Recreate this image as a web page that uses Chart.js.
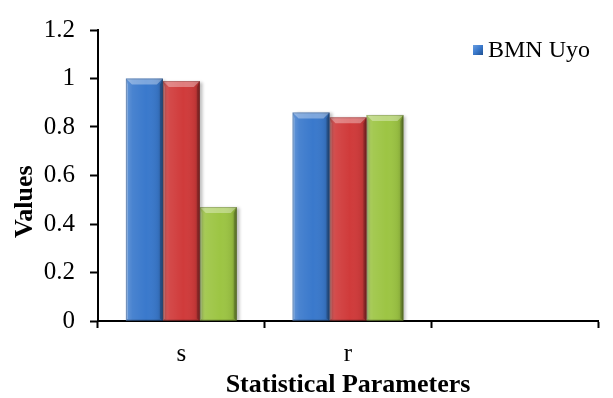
<!DOCTYPE html>
<html>
<head>
<meta charset="utf-8">
<script src="https://cdn.jsdelivr.net/npm/chart.js@4/dist/chart.umd.min.js"></script>
<style>
  html, body { margin: 0; padding: 0; background: #ffffff; }
  #wrap { width: 613px; height: 398px; }
</style>
</head>
<body>
<div id="wrap"><canvas id="c" width="613" height="398"></canvas></div>
<script>
// Statistical parameters compared across three series
const categories = ['s', 'r', ''];
const seriesNames = ['BMN Uyo', 'Series 2', 'Series 3'];
const bmnUyo  = [1.00, 0.86, null];
const series2 = [0.99, 0.84, null];
const series3 = [0.47, 0.85, null];
const yTicks = [0, 0.2, 0.4, 0.6, 0.8, 1, 1.2];
const legendShown = ['BMN Uyo'];
const yTitle = 'Values';
const xTitle = 'Statistical Parameters';

const seriesColors = ['#3a79cc', '#d03b3b', '#9dc544'];
const serif = "'Liberation Serif', 'Times New Roman', serif";

// Adds a bevelled, slightly glossy finish on top of each drawn bar
const bevelBars = {
  id: 'bevelBars',
  beforeDatasetDraw(chart) {
    const ctx = chart.ctx;
    ctx.save();
    ctx.shadowColor = 'rgba(0,0,0,0.25)';
    ctx.shadowBlur = 3;
    ctx.shadowOffsetX = 3;
    ctx.shadowOffsetY = 1;
  },
  afterDatasetDraw(chart, args) {
    const ctx = chart.ctx;
    ctx.restore();
    args.meta.data.forEach((el) => {
      const p = el.getProps(['x', 'y', 'base', 'width'], true);
      if (p.y == null || isNaN(p.y)) return;
      const l = p.x - p.width / 2, r = p.x + p.width / 2;
      const t = Math.min(p.y, p.base), b = Math.max(p.y, p.base);
      if (b - t < 1) return;
      const bv = 6;
      ctx.save();
      const g = ctx.createLinearGradient(l, 0, r, 0);
      g.addColorStop(0, 'rgba(255,255,255,0.22)');
      g.addColorStop(0.18, 'rgba(255,255,255,0.08)');
      g.addColorStop(0.55, 'rgba(255,255,255,0)');
      g.addColorStop(0.85, 'rgba(0,0,0,0.06)');
      g.addColorStop(1, 'rgba(0,0,0,0.22)');
      ctx.fillStyle = g;
      ctx.fillRect(l, t, r - l, b - t);
      // top bevel
      ctx.beginPath();
      ctx.moveTo(l, t); ctx.lineTo(r, t); ctx.lineTo(r - bv, t + bv); ctx.lineTo(l + bv, t + bv); ctx.closePath();
      ctx.fillStyle = 'rgba(255,255,255,0.34)';
      ctx.fill();
      // left bevel
      ctx.beginPath();
      ctx.moveTo(l, t); ctx.lineTo(l + 2, t + bv); ctx.lineTo(l + 2, b - 2); ctx.lineTo(l, b); ctx.closePath();
      ctx.fillStyle = 'rgba(255,255,255,0.25)';
      ctx.fill();
      // right bevel
      ctx.beginPath();
      ctx.moveTo(r, t); ctx.lineTo(r - 3, t + bv); ctx.lineTo(r - 3, b - 2); ctx.lineTo(r, b); ctx.closePath();
      ctx.fillStyle = 'rgba(0,0,0,0.22)';
      ctx.fill();
      ctx.strokeStyle = 'rgba(0,0,0,0.18)';
      ctx.lineWidth = 1;
      ctx.strokeRect(l + 0.5, t + 0.5, r - l - 1, b - t - 1);
      ctx.restore();
    });
  }
};

// Legend inside the plot at the upper right, and the vertical axis caption
const annotations = {
  id: 'annotations',
  afterDraw(chart) {
    const ctx = chart.ctx;
    const area = chart.chartArea;
    const items = Chart.defaults.plugins.legend.labels.generateLabels(chart)
      .filter((it) => legendShown.includes(it.text));
    let y = area.top + 20;
    const x = area.right - 125;
    items.forEach((it) => {
      const s = 10;
      const g = ctx.createLinearGradient(x, y - s / 2, x + s, y + s / 2);
      g.addColorStop(0, '#6a9ee0');
      g.addColorStop(0.5, it.fillStyle);
      g.addColorStop(1, '#1f4f8f');
      ctx.fillStyle = g;
      ctx.fillRect(x, y - s / 2, s, s);
      ctx.fillStyle = '#000';
      ctx.font = '24px ' + serif;
      ctx.textAlign = 'left';
      ctx.textBaseline = 'middle';
      ctx.fillText(it.text, x + 15, y + 1);
      y += 28;
    });

    // y-axis caption, rotated, sitting a little below the axis middle
    ctx.save();
    ctx.translate(25, area.top + (area.bottom - area.top) * 0.59);
    ctx.rotate(-Math.PI / 2);
    ctx.font = 'bold 26px ' + serif;
    ctx.fillStyle = '#000';
    ctx.textAlign = 'center';
    ctx.textBaseline = 'middle';
    ctx.fillText(yTitle, 0, 0);
    ctx.restore();
  }
};

const datasets = [bmnUyo, series2, series3].map((vals, i) => ({
  label: seriesNames[i],
  data: vals,
  backgroundColor: seriesColors[i],
  borderWidth: 0,
  categoryPercentage: 0.665,
  barPercentage: 1.0
}));

new Chart(document.getElementById('c'), {
  type: 'bar',
  data: { labels: categories, datasets },
  options: {
    responsive: false,
    animation: false,
    layout: { padding: { top: 22, right: 15, left: 0, bottom: 0 } },
    plugins: {
      legend: { display: false },
      tooltip: { enabled: false }
    },
    scales: {
      x: {
        afterFit(scale) { scale.height = 77; },
        grid: {
          offset: true,
          drawOnChartArea: false,
          drawTicks: true,
          tickLength: 7,
          tickColor: '#000',
          tickWidth: 2
        },
        border: { display: true, color: '#000', width: 2 },
        ticks: {
          color: '#000',
          font: { family: serif, size: 25 },
          padding: 11
        },
        title: {
          display: true,
          text: xTitle,
          color: '#000',
          font: { family: serif, size: 26, weight: 'bold' },
          padding: { top: 0, bottom: -3 }
        }
      },
      y: {
        min: 0,
        max: 1.2,
        afterFit(scale) { scale.width = 98; },
        afterBuildTicks(scale) { scale.ticks = yTicks.map((v) => ({ value: v })); },
        grid: {
          drawOnChartArea: false,
          drawTicks: true,
          tickLength: 8,
          tickColor: '#000',
          tickWidth: 2
        },
        border: { display: true, color: '#000', width: 2 },
        ticks: {
          color: '#000',
          font: { family: serif, size: 25 },
          padding: 15,
          callback: (v) => String(Math.round(v * 10) / 10)
        },
        title: { display: false }
      }
    }
  },
  plugins: [bevelBars, annotations]
});
</script>
</body>
</html>
